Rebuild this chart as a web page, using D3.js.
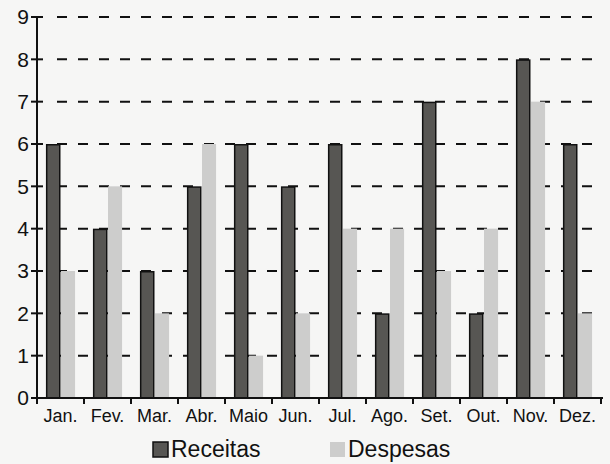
<!DOCTYPE html>
<html><head><meta charset="utf-8">
<script src="https://cdn.jsdelivr.net/npm/d3@7"></script>
<style>
html,body{margin:0;padding:0;background:#f6f6f5;}
svg{display:block;font-family:"Liberation Sans",Arial,sans-serif;}
</style></head>
<body>
<script>
const months = ["Jan.","Fev.","Mar.","Abr.","Maio","Jun.","Jul.","Ago.","Set.","Out.","Nov.","Dez."];
const receitas = [6,4,3,5,6,5,6,2,7,2,8,6];
const despesas = [3,5,2,6,1,2,4,4,3,4,7,2];
const yTicks = [0,1,2,3,4,5,6,7,8,9];
const seriesNames = ["Receitas","Despesas"];
const colors = ["#575653","#cdcdcc"];

const W=610,H=464;
const svg=d3.select("body").append("svg").attr("width",W).attr("height",H);
const x0=37, x1=601, yTop=17, yBot=398;
const x=d3.scaleBand().domain(months).range([x0,x1]).paddingInner(0.38).paddingOuter(0.19);
const xs=d3.scaleBand().domain(seriesNames).range([0,x.bandwidth()]);
const y=d3.scaleLinear().domain([0,9]).range([yBot,yTop]);

// dashed gridlines
svg.append("g").selectAll("line").data(yTicks.filter(d=>d>0)).join("line")
  .attr("x1",x0+20).attr("x2",x1).attr("y1",d=>y(d)).attr("y2",d=>y(d))
  .attr("stroke","#111").attr("stroke-width",2).attr("stroke-dasharray","10,11");

// bars
const g=svg.append("g");
months.forEach((m,i)=>{
  const vals=[receitas[i],despesas[i]];
  vals.forEach((v,j)=>{
    g.append("rect").attr("x",x(m)+xs(seriesNames[j])+(j===0?0.75:0.5))
      .attr("y",y(v)+(j===0?0.75:0))
      .attr("width",xs.bandwidth()-(j===0?1.5:0.5))
      .attr("height",y(0)-y(v)-(j===0?0.75:0))
      .attr("fill",colors[j])
      .attr("stroke",j===0?"#111":"none").attr("stroke-width",j===0?1.5:0);
  });
});

// y axis
const yAxis=d3.axisLeft(y).tickValues(yTicks).tickSize(0).tickPadding(8);
const ya=svg.append("g").attr("transform",`translate(${x0},0)`).call(yAxis);
ya.select(".domain").remove();
ya.selectAll("text").attr("font-size",21).attr("fill","#111").attr("font-family","Liberation Sans, Arial, sans-serif");
svg.append("g").selectAll("line").data(yTicks).join("line")
  .attr("x1",x0-6).attr("x2",x0+6).attr("y1",d=>y(d)).attr("y2",d=>y(d))
  .attr("stroke","#111").attr("stroke-width",2);
svg.append("line").attr("x1",x0).attr("x2",x0).attr("y1",yTop-1).attr("y2",yBot+1)
  .attr("stroke","#111").attr("stroke-width",2);

// x axis
svg.append("line").attr("x1",x0).attr("x2",x1+2).attr("y1",yBot).attr("y2",yBot)
  .attr("stroke","#111").attr("stroke-width",2);
const step=(x1-x0)/months.length;
svg.append("g").selectAll("line").data(d3.range(months.length+1)).join("line")
  .attr("x1",d=>x0+d*step).attr("x2",d=>x0+d*step).attr("y1",yBot).attr("y2",yBot+6)
  .attr("stroke","#111").attr("stroke-width",2);
svg.append("g").selectAll("text").data(months).join("text")
  .attr("x",d=>x(d)+x.bandwidth()/2).attr("y",yBot+24)
  .attr("text-anchor","middle").attr("font-size",18).attr("fill","#111").text(d=>d);

// legend
const leg=[{name:seriesNames[0],x:153,tx:171},{name:seriesNames[1],x:330,tx:348}];
leg.forEach((l,i)=>{
  svg.append("rect").attr("x",l.x).attr("y",442).attr("width",15).attr("height",15)
    .attr("fill",colors[i]).attr("stroke",i===0?"#111":"none").attr("stroke-width",1.5);
  svg.append("text").attr("x",l.tx).attr("y",457).attr("font-size",23).attr("fill","#111").text(l.name);
});
</script>
</body></html>
